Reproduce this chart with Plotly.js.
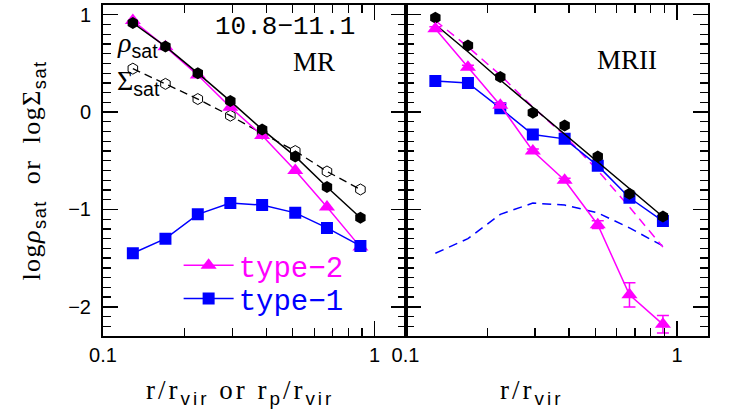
<!DOCTYPE html>
<html>
<head>
<meta charset="utf-8">
<script src="https://cdn.plot.ly/plotly-3.0.1.min.js"></script>
<style>
html,body{margin:0;padding:0;background:#fff;}
#chart{width:747px;height:416px;}
text.ytitle { letter-spacing: 1.5px; }
</style>
</head>
<body>
<div id="chart"></div>
<script>
// radial bins r/r_vir (shared by both panels)
const rBins = [0.1288, 0.1698, 0.2234, 0.2944, 0.3855, 0.5105, 0.668, 0.887];

// MR panel (left)
const mrRho   = [0.915, 0.675, 0.40, 0.113, -0.178, -0.455, -0.77, -1.085];
const mrSigma = [0.446, 0.29, 0.134, -0.037, -0.22, -0.40, -0.61, -0.795];
const mrType2 = [0.94, 0.67, 0.38, 0.05, -0.24, -0.60, -0.976, -1.387];
const mrType1 = [-1.45, -1.30, -1.05, -0.935, -0.955, -1.035, -1.19, -1.375];

// MRII panel (right)
const mr2Rho     = [0.97, 0.685, 0.36, -0.006, -0.137, -0.455, -0.84, -1.072];
const mr2RhoFit  = [0.90, 0.62, 0.33, 0.05, -0.23, -0.51, -0.79, -1.075];
const mr2Type2   = [0.857, 0.46, 0.07, -0.40, -0.70, -1.157, -1.877, -2.18];
const mr2Type2Err= [0.02, 0.02, 0.02, 0.02, 0.02, 0.04, 0.125, 0.09];
const mr2Type1   = [0.32, 0.30, 0.04, -0.23, -0.275, -0.55, -0.88, -1.12];
const mr2Type1Err= [0.04, 0.02, 0.02, 0.02, 0.02, 0.02, 0.02, 0.02];

// axis ticks
const xMajor = [0.1, 1];
const xMajorText = ['0.1', '1'];
const xMinor = [0.2, 0.3, 0.4, 0.5, 0.6, 0.7, 0.8, 0.9];
const yMajor = [-2, -1, 0, 1];
const yMajorText = ['\u22122', '\u22121', '0', '1'];

const MAG = '#ff00ff', BLU = '#0000ff', BLK = '#000000';
const SANS = 'Liberation Sans, Arial, sans-serif';
const serif = 'Liberation Serif, Times New Roman, serif';
const mono = 'Liberation Mono, Courier New, monospace';
const sub = s => '<sub><span style="font-family:' + SANS + '">' + s + '</span></sub>';
const spaced = s => '<span style="letter-spacing:3px">' + s + '</span>';

const traces = [
  {x: rBins, y: mrSigma, xaxis:'x', yaxis:'y', mode:'lines+markers', showlegend:false,
   line:{color:BLK, width:1.3, dash:'8px,5px'},
   marker:{symbol:'hexagon-open', size:11, color:BLK, line:{width:1, color:BLK}}},
  {x: rBins, y: mrType2, xaxis:'x', yaxis:'y', mode:'lines+markers', legend:'legend',
   name:'<span style="color:#ff00ff">type\u22122</span>',
   line:{color:MAG, width:1.5}, marker:{symbol:'triangle-up', size:14, color:MAG}},
  {x: rBins, y: mrType1, xaxis:'x', yaxis:'y', mode:'lines+markers', legend:'legend2',
   name:'<span style="color:#0000ff">type\u22121</span>',
   line:{color:BLU, width:1.5}, marker:{symbol:'square', size:12, color:BLU}},
  {x: rBins, y: mrRho, xaxis:'x', yaxis:'y', mode:'lines+markers', showlegend:false,
   line:{color:BLK, width:1.5}, marker:{symbol:'hexagon', size:12, color:BLK}},

  {x: rBins, y: mrType1, xaxis:'x2', yaxis:'y2', mode:'lines', showlegend:false,
   line:{color:BLU, width:1.5, dash:'9px,6px'}},
  {x: rBins, y: mrType2, xaxis:'x2', yaxis:'y2', mode:'lines', showlegend:false,
   line:{color:MAG, width:1.5, dash:'9px,6px'}},
  {x: rBins, y: mr2Type1, xaxis:'x2', yaxis:'y2', mode:'lines+markers', showlegend:false,
   line:{color:BLU, width:1.5}, marker:{symbol:'square', size:12, color:BLU},
   error_y:{type:'data', array:mr2Type1Err, color:BLU, thickness:1.5, width:4}},
  {x: rBins, y: mr2RhoFit, xaxis:'x2', yaxis:'y2', mode:'lines', showlegend:false,
   line:{color:BLK, width:1.5}},
  {x: rBins, y: mr2Rho, xaxis:'x2', yaxis:'y2', mode:'markers', showlegend:false,
   marker:{symbol:'hexagon', size:12, color:BLK}},
  {x: rBins, y: mr2Type2, xaxis:'x2', yaxis:'y2', mode:'lines+markers', showlegend:false,
   line:{color:MAG, width:1.5}, marker:{symbol:'triangle-up', size:14, color:MAG},
   error_y:{type:'data', array:mr2Type2Err, color:MAG, thickness:1.5, width:6}}
];

const tickFont = {family:SANS, size:20, color:'#000'};

function xAx(domain, anchor) {
  return {
    type:'log', domain:domain, anchor:anchor, range:[-1, Math.log10(1.3)],
    tickmode:'array', tickvals:xMajor, ticktext:xMajorText,
    ticks:'inside', ticklen:15, tickwidth:1.5, tickcolor:'#000',
    minor:{tickmode:'array', tickvals:xMinor, ticks:'inside', ticklen:8, tickwidth:1.3, tickcolor:'#000'},
    showline:true, linewidth:2, linecolor:'#000', mirror:'allticks',
    showgrid:false, zeroline:false, tickfont:tickFont
  };
}
function yAx(anchor, showLabels, titleText) {
  const a = {
    anchor:anchor, range:[-2.3, 1.1],
    tickmode:'array', tickvals:yMajor, ticktext:yMajorText,
    ticks:'inside', ticklen:15, tickwidth:1.5, tickcolor:'#000',
    minor:{dtick:0.1, ticks:'inside', ticklen:8, tickwidth:1.3, tickcolor:'#000'},
    showline:true, linewidth:2, linecolor:'#000', mirror:'allticks',
    showgrid:false, zeroline:false, tickfont:tickFont, showticklabels:showLabels,
    ticklabelstandoff:6
  };
  if (titleText) a.title = {text:titleText, font:{family:serif, size:26, color:'#000'}, standoff:20};
  return a;
}

const legendBase = {xanchor:'left', yanchor:'top', bgcolor:'rgba(0,0,0,0)', borderwidth:0,
  font:{family:mono, size:29, color:'#000'}, itemwidth:50};

const layout = {
  width:747, height:416,
  margin:{l:103, r:39, t:5, b:80},
  paper_bgcolor:'#fff', plot_bgcolor:'#fff',
  showlegend:true,
  legend: Object.assign({}, legendBase, {x:0.125, y:0.29}),
  legend2: Object.assign({}, legendBase, {x:0.125, y:0.19}),
  xaxis: xAx([0, 0.5], 'y'),
  xaxis2: xAx([0.5, 1], 'y2'),
  yaxis: yAx('x', true, 'log<i>\u03c1</i>' + sub('sat') + '&nbsp; or &nbsp;log\u03a3' + sub('sat')),
  yaxis2: yAx('x2', false, null),
  annotations:[
    {xref:'paper', yref:'paper', x:0.2264, y:-0.17, xanchor:'center', yanchor:'middle', showarrow:false,
     text: spaced('r/r' + sub('vir') + '&nbsp;or&nbsp;r' + sub('p') + '/r' + sub('vir')),
     font:{family:serif, size:27, color:'#000'}},
    {xref:'paper', yref:'paper', x:0.709, y:-0.17, xanchor:'center', yanchor:'middle', showarrow:false,
     text: spaced('r/r' + sub('vir')),
     font:{family:serif, size:27, color:'#000'}},
    {xref:'x', yref:'y', x:-0.33, y:0.87, text:'10.8\u221211.1', showarrow:false,
     font:{family:mono, size:26, color:'#000'}, xanchor:'center', yanchor:'middle'},
    {xref:'x', yref:'y', x:-0.224, y:0.51, text:'MR', showarrow:false,
     font:{family:serif, size:27, color:'#000'}, xanchor:'center', yanchor:'middle'},
    {xref:'x2', yref:'y2', x:-0.183, y:0.53, text:'MRII', showarrow:false,
     font:{family:serif, size:27, color:'#000'}, xanchor:'center', yanchor:'middle'},
    {xref:'x', yref:'y', x:-0.955, y:0.69, text:'<i>\u03c1</i>' + sub('sat'), showarrow:false,
     font:{family:serif, size:28, color:'#000'}, xanchor:'left', yanchor:'middle'},
    {xref:'x', yref:'y', x:-0.955, y:0.30, text:'\u03a3' + sub('sat'), showarrow:false,
     font:{family:serif, size:28, color:'#000'}, xanchor:'left', yanchor:'middle'}
  ]
};

Plotly.newPlot('chart', traces, layout, {displayModeBar:false, staticPlot:true});
</script>
</body>
</html>
